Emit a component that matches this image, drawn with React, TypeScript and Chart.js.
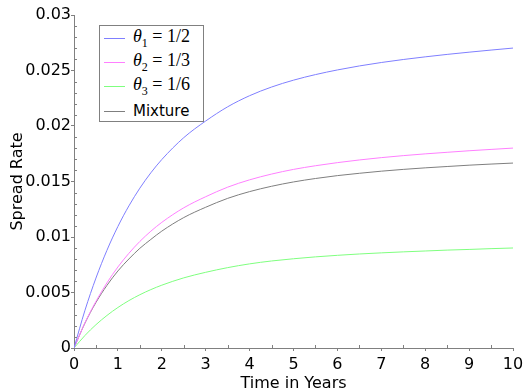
import React, { useEffect, useRef } from "react";
import { Chart, registerables } from "chart.js";

Chart.register(...registerables);

const times = [0, 0.25, 0.5, 0.75, 1, 1.25, 1.5, 1.75, 2, 2.5, 3, 3.5, 4, 4.5, 5, 5.5, 6, 6.5, 7, 7.5, 8, 8.5, 9, 9.5, 10];
const theta1 = [0, 0.0034, 0.0063, 0.0088, 0.01095, 0.0128, 0.0144, 0.01578, 0.01698, 0.01895, 0.02045, 0.02173, 0.02273, 0.02351, 0.02413, 0.02463, 0.02505, 0.02541, 0.02572, 0.02599, 0.02623, 0.02645, 0.02665, 0.02684, 0.02702];
const theta2 = [0, 0.00227, 0.0042, 0.00587, 0.0073, 0.00853, 0.0096, 0.01052, 0.01132, 0.01263, 0.01363, 0.01449, 0.01515, 0.01567, 0.01609, 0.01642, 0.0167, 0.01694, 0.01715, 0.01733, 0.01749, 0.01763, 0.01777, 0.01789, 0.01801];
const theta3 = [0, 0.00113, 0.0021, 0.00293, 0.00365, 0.00427, 0.0048, 0.00526, 0.00566, 0.00632, 0.00682, 0.00724, 0.00758, 0.00784, 0.00804, 0.00821, 0.00835, 0.00847, 0.00857, 0.00866, 0.00874, 0.00882, 0.00888, 0.00895, 0.00901];
const mixture = [0, 0.00225, 0.0041, 0.00564, 0.00694, 0.00802, 0.00898, 0.00978, 0.01053, 0.01175, 0.01268, 0.01348, 0.01409, 0.01457, 0.01496, 0.01527, 0.01553, 0.01574, 0.01593, 0.01609, 0.01623, 0.01635, 0.01647, 0.01657, 0.01666];

const seriesColors = ["#7f7fff", "#ff7fff", "#7fff7f", "#7f7f7f"];
const xTicks = [0, 1, 2, 3, 4, 5, 6, 7, 8, 9, 10];
const yTicks = [0, 0.005, 0.01, 0.015, 0.02, 0.025, 0.03];

const AXIS = "#808080";

const minorTicks = {
  id: "minorTicks",
  afterDraw(chart: any) {
    const ctx = chart.ctx;
    const xs = chart.scales.x;
    const ys = chart.scales.y;
    ctx.save();
    ctx.strokeStyle = AXIS;
    ctx.lineWidth = 1;
    ctx.beginPath();
    for (let i = 0; i < 10; i++) {
      const px = Math.round(xs.getPixelForValue(i + 0.5)) + 0.5;
      ctx.moveTo(px, ys.bottom);
      ctx.lineTo(px, ys.bottom - 3);
    }
    for (let i = 1; i < 30; i++) {
      if (i % 5 === 0) continue;
      const py = Math.round(ys.getPixelForValue(i * 0.001)) + 0.5;
      ctx.moveTo(xs.left, py);
      ctx.lineTo(xs.left + 3, py);
    }
    ctx.stroke();
    ctx.restore();
  },
};

export default function App() {
  const ref = useRef<HTMLCanvasElement>(null);
  useEffect(() => {
    if (!ref.current) return;
    const mk = (label: string, data: number[], color: string) => ({
      label,
      data: times.map((t, i) => ({ x: t, y: data[i] })),
      borderColor: color,
      backgroundColor: color,
      borderWidth: 1,
      pointRadius: 0,
      cubicInterpolationMode: "monotone" as const,
      fill: false,
    });
    const chart = new Chart(ref.current, {
      type: "line",
      data: {
        datasets: [
          mk("θ1 = 1/2", theta1, seriesColors[0]),
          mk("θ2 = 1/3", theta2, seriesColors[1]),
          mk("θ3 = 1/6", theta3, seriesColors[2]),
          mk("Mixture", mixture, seriesColors[3]),
        ],
      },
      options: {
        responsive: false,
        animation: false,
        layout: { padding: { left: 0, right: 11, top: 15, bottom: 0 } },
        plugins: { legend: { display: false }, tooltip: { enabled: false } },
        scales: {
          x: {
            type: "linear",
            min: 0,
            max: 10,
            afterBuildTicks: (s: any) => {
              s.ticks = xTicks.map((v) => ({ value: v }));
            },
            afterFit: (s: any) => {
              s.height = 41;
              s.paddingRight = 0;
            },
            border: { color: AXIS, width: 1 },
            grid: { drawOnChartArea: false, drawTicks: true, tickLength: 3, color: AXIS },
            ticks: {
              color: "#000",
              padding: 4,
              maxRotation: 0,
              font: { family: "DejaVu Sans", size: 16 },
              callback: (v: any) => String(v),
            },
            title: {
              display: true,
              text: "Time in Years",
              color: "#000",
              font: { family: "DejaVu Sans", size: 16, lineHeight: 1 },
              padding: { top: 0, bottom: -3 },
            },
          },
          y: {
            type: "linear",
            min: 0,
            max: 0.03,
            afterBuildTicks: (s: any) => {
              s.ticks = yTicks.map((v) => ({ value: v }));
            },
            afterFit: (s: any) => {
              s.width = 74;
            },
            border: { color: AXIS, width: 1 },
            grid: { drawOnChartArea: false, drawTicks: true, tickLength: 3, color: AXIS },
            ticks: {
              color: "#000",
              padding: 0,
              font: { family: "DejaVu Sans", size: 16 },
              callback: (v: any) => String(Number(Number(v).toFixed(3))),
            },
            title: {
              display: true,
              text: "Spread Rate",
              color: "#000",
              font: { family: "DejaVu Sans", size: 16, lineHeight: 1 },
              padding: { top: 10, bottom: 0 },
            },
          },
        },
      },
      plugins: [minorTicks],
    });
    return () => chart.destroy();
  }, []);

  const serif = { fontFamily: "'Liberation Serif', 'DejaVu Serif', serif", fontSize: 18 };
  const row = (color: string, content: React.ReactNode) => (
    <div style={{ display: "flex", alignItems: "center", height: 24.3 }}>
      <div style={{ width: 21, height: 1, background: color, marginLeft: 4, marginRight: 8 }} />
      {content}
    </div>
  );
  const theta = (n: number, frac: string) => (
    <span style={{ ...serif, whiteSpace: "nowrap" }}>
      <i>θ</i>
      <sub style={{ fontSize: 12 }}>{n}</sub>
      {" = " + frac}
    </span>
  );

  return (
    <div style={{ position: "fixed", left: 0, top: 0, width: 524, height: 389, background: "#fff" }}>
      <canvas ref={ref} width={524} height={389} style={{ display: "block" }} />
      <div
        style={{
          position: "absolute",
          left: 99,
          top: 25,
          width: 105,
          height: 97,
          boxSizing: "border-box",
          border: "1px solid #808080",
          background: "#fff",
          paddingTop: 0,
        }}
      >
        {row(seriesColors[0], theta(1, "1/2"))}
        {row(seriesColors[1], theta(2, "1/3"))}
        {row(seriesColors[2], theta(3, "1/6"))}
        {row(seriesColors[3], <span style={{ fontFamily: "'DejaVu Sans'", fontSize: 15 }}>Mixture</span>)}
      </div>
    </div>
  );
}
